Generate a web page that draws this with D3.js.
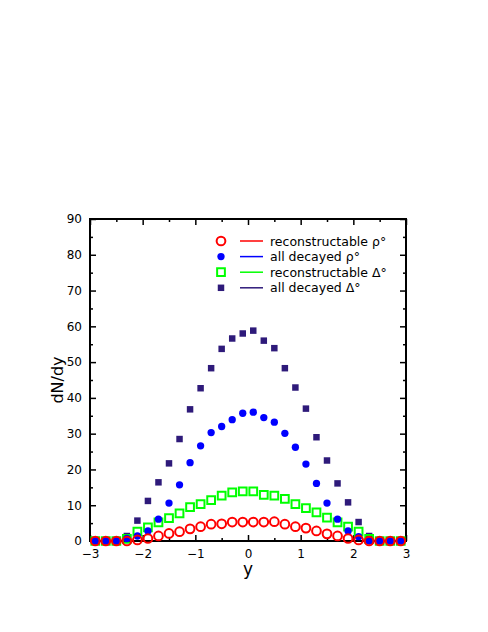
<!DOCTYPE html>
<html><head><meta charset="utf-8">
<script src="https://cdn.jsdelivr.net/npm/d3@7"></script>
<style>body{margin:0;background:#fff}text{font-family:"DejaVu Sans",sans-serif}</style>
</head><body><svg id="c" width="488" height="632"></svg>
<script>
const ys = d3.range(30).map(i => +(-2.9 + 0.2*i).toFixed(1));
const recRho = [0,0,0,0,0.3,0.7,1.4,2.1,2.6,3.4,4.0,4.7,4.8,5.3,5.3,5.3,5.3,5.4,4.7,4.0,3.6,2.8,2.0,1.4,0.7,0.3,0,0,0,0];
const allRho = [0,0,0,0.7,1.4,2.8,6.1,10.6,15.7,21.9,26.6,30.3,32.0,33.9,35.7,36.0,34.5,33.2,30.1,26.2,21.5,16.1,10.6,6.1,2.8,1.2,0,0,0,0];
const recDelta = [0,0,0,0.6,2.6,3.8,5.2,6.4,7.7,9.5,10.3,11.4,12.7,13.6,13.9,13.9,12.9,12.7,11.8,10.3,9.2,8.0,6.5,5.2,4.0,2.6,0.6,0,0,0];
const allDelta = [0,0,0,1.4,5.7,11.2,16.4,21.7,28.5,36.8,42.7,48.3,53.7,56.6,58.0,58.8,56.0,53.9,48.3,42.9,37.0,29.0,22.5,16.1,10.8,5.3,1.4,0,0,0];
const xTicks = [-3,-2,-1,0,1,2,3];
const yTicks = [0,10,20,30,40,50,60,70,80,90];
const labels = ["reconstructable \u03C1\u00B0","all decayed \u03C1\u00B0","reconstructable \u0394\u00B0","all decayed \u0394\u00B0"];

const svg = d3.select("#c");
const L=90,R=406,T=219,B=541;
const x = d3.scaleLinear().domain([-3,3]).range([L,R]);
const y = d3.scaleLinear().domain([0,90]).range([B,T]);

// ticks
const g = svg.append("g");
const xAxB = d3.axisBottom(x).tickValues(xTicks).tickSize(-6).tickPadding(8).tickFormat(d3.format("d"));
g.append("g").attr("transform",`translate(0,${B})`).call(xAxB);
g.append("g").attr("transform",`translate(0,${B})`).call(d3.axisBottom(x).tickValues(d3.range(-2.5,3,1)).tickSize(-3).tickFormat(""));
g.append("g").attr("transform",`translate(0,${T})`).call(d3.axisTop(x).tickValues(xTicks).tickSize(-6).tickFormat(""));
g.append("g").attr("transform",`translate(0,${T})`).call(d3.axisTop(x).tickValues(d3.range(-2.5,3,1)).tickSize(-3).tickFormat(""));
g.append("g").attr("transform",`translate(${L},0)`).call(d3.axisLeft(y).tickValues(yTicks).tickSize(-6).tickPadding(8));
g.append("g").attr("transform",`translate(${L},0)`).call(d3.axisLeft(y).tickValues(d3.range(5,90,10)).tickSize(-3).tickFormat(""));
g.append("g").attr("transform",`translate(${R},0)`).call(d3.axisRight(y).tickValues(yTicks).tickSize(-6).tickFormat(""));
g.append("g").attr("transform",`translate(${R},0)`).call(d3.axisRight(y).tickValues(d3.range(5,90,10)).tickSize(-3).tickFormat(""));
g.selectAll(".domain").remove();
g.selectAll(".tick line").attr("stroke","#000").attr("stroke-width",1.5);
g.selectAll(".tick text").attr("font-size",12).attr("font-family","DejaVu Sans").attr("fill","#000");
svg.append("rect").attr("x",L).attr("y",T).attr("width",R-L).attr("height",B-T)
  .attr("fill","none").attr("stroke","#000").attr("stroke-width",2);

svg.append("text").attr("x",(L+R)/2).attr("y",575).attr("text-anchor","middle").attr("font-size",17).text("y");
svg.append("text").attr("transform",`translate(63,${(T+B)/2}) rotate(-90)`).attr("text-anchor","middle").attr("font-size",16).text("dN/dy");

const sym = (type,size)=>d3.symbol().type(type).size(size)();
const series = [
 {d:recRho,c:"#ff0000",t:d3.symbolCircle,fill:false,s:60},
 {d:allRho,c:"#0000ff",t:d3.symbolCircle,fill:true,s:42},
 {d:recDelta,c:"#00ff00",t:d3.symbolSquare,fill:false,s:60},
 {d:allDelta,c:"#2e1a7a",t:d3.symbolSquare,fill:true,s:42},
];
[3,2,1,0].forEach(k=>{
  const s=series[k];
  svg.append("g").selectAll("path").data(s.d).join("path")
    .attr("transform",(v,i)=>`translate(${x(ys[i])},${y(v)})`)
    .attr("d",sym(s.t,s.s))
    .attr("fill",s.fill?s.c:"none").attr("stroke",s.c).attr("stroke-width",s.fill?0:2);
});

// legend
series.forEach((s,k)=>{
  const yy=241+k*15.6;
  svg.append("path").attr("transform",`translate(221,${yy})`).attr("d",sym(s.t,s.s))
    .attr("fill",s.fill?s.c:"none").attr("stroke",s.c).attr("stroke-width",s.fill?0:2);
  svg.append("line").attr("x1",240).attr("x2",263).attr("y1",yy).attr("y2",yy).attr("stroke",s.c).attr("stroke-width",1.5);
  svg.append("text").attr("x",270).attr("y",yy+4.5).attr("font-size",12.5).text(labels[k]);
});
</script></body></html>
